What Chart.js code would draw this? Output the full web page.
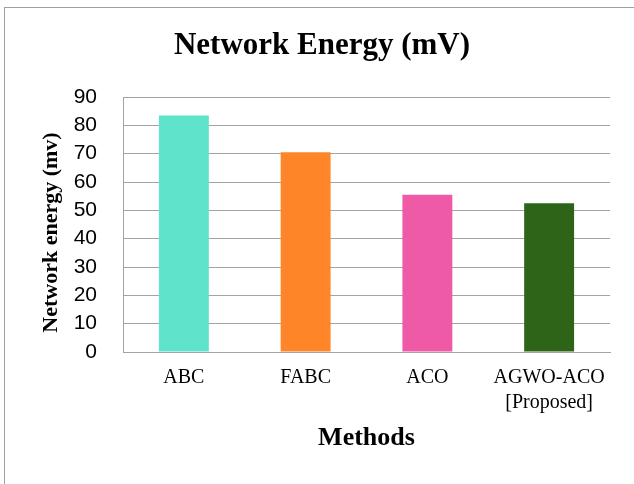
<!DOCTYPE html>
<html>
<head>
<meta charset="utf-8">
<title>Network Energy (mV)</title>
<script src="https://cdn.jsdelivr.net/npm/chart.js@4/dist/chart.umd.min.js"></script>
<style>
  html, body { margin: 0; padding: 0; background: #ffffff; }
  #wrap { position: relative; width: 634px; height: 484px; overflow: hidden; }
  #frame {
    position: absolute; left: 4px; top: 7px; width: 700px; height: 600px;
    border-left: 1px solid #a0a0a0; border-top: 1px solid #a0a0a0;
    pointer-events: none;
  }
  canvas { display: block; }
</style>
</head>
<body>
<div id="wrap">
  <canvas id="chart" width="634" height="484"></canvas>
  <div id="frame"></div>
</div>
<script>
// Methods compared and their measured network energy (mV)
const categories = ['ABC', 'FABC', 'ACO', ['AGWO-ACO', '[Proposed]']];
const energyValues = [83.5, 70.5, 55.5, 52.5];
const barColors = ['#5fe3cb', '#ff8628', '#ef5aa6', '#2e6418'];
const yTicks = [0, 10, 20, 30, 40, 50, 60, 70, 80, 90];

const chartTitle = 'Network Energy (mV)';
const yAxisTitle = 'Network energy (mv)';
const xAxisTitle = 'Methods';

const serif = '"Liberation Serif", "Times New Roman", serif';
const sans = '"Liberation Sans", Arial, sans-serif';
const gridGray = '#a3a3a3';

// Heading and rotated y-axis caption, placed over the whole chart frame
const captions = {
  id: 'captions',
  afterDraw(chart) {
    const ctx = chart.ctx;
    const area = chart.chartArea;
    ctx.save();
    ctx.fillStyle = '#000000';
    ctx.textAlign = 'center';
    ctx.textBaseline = 'middle';
    ctx.font = 'bold 31px ' + serif;
    ctx.fillText(chartTitle, 322, 46);

    ctx.translate(51, (area.top + area.bottom) / 2 + 8);
    ctx.rotate(-Math.PI / 2);
    ctx.font = 'bold 22px ' + serif;
    ctx.fillText(yAxisTitle, 0, 0);
    ctx.restore();
  }
};

new Chart(document.getElementById('chart'), {
  type: 'bar',
  data: {
    labels: categories,
    datasets: [{
      label: yAxisTitle,
      data: energyValues,
      backgroundColor: barColors,
      borderWidth: 0,
      categoryPercentage: 1.0,
      barPercentage: 0.41
    }]
  },
  plugins: [captions],
  options: {
    responsive: false,
    animation: false,
    layout: { padding: { left: 0, right: 24, top: 97, bottom: 0 } },
    plugins: {
      legend: { display: false },
      tooltip: { enabled: false },
      title: { display: false }
    },
    scales: {
      x: {
        grid: { display: false, drawTicks: false },
        border: { display: true, color: gridGray, width: 1 },
        ticks: {
          color: '#000000',
          font: { family: serif, size: 20, lineHeight: 1.25 },
          padding: 13,
          maxRotation: 0,
          autoSkip: false
        },
        title: {
          display: true,
          text: xAxisTitle,
          color: '#000000',
          font: { family: serif, size: 26, weight: 'bold', lineHeight: 1.2 },
          padding: { top: 0, bottom: 30 }
        },
        afterFit(scale) { scale.height = 132; }
      },
      y: {
        min: 0,
        max: 90,
        afterBuildTicks(scale) { scale.ticks = yTicks.map(v => ({ value: v })); },
        grid: { color: gridGray, lineWidth: 1, drawTicks: false },
        border: { display: true, color: gridGray, width: 1 },
        ticks: {
          color: '#000000',
          font: { family: sans, size: 21 },
          padding: 26
        },
        afterFit(scale) { scale.width = 123; }
      }
    }
  }
});
</script>
</body>
</html>
